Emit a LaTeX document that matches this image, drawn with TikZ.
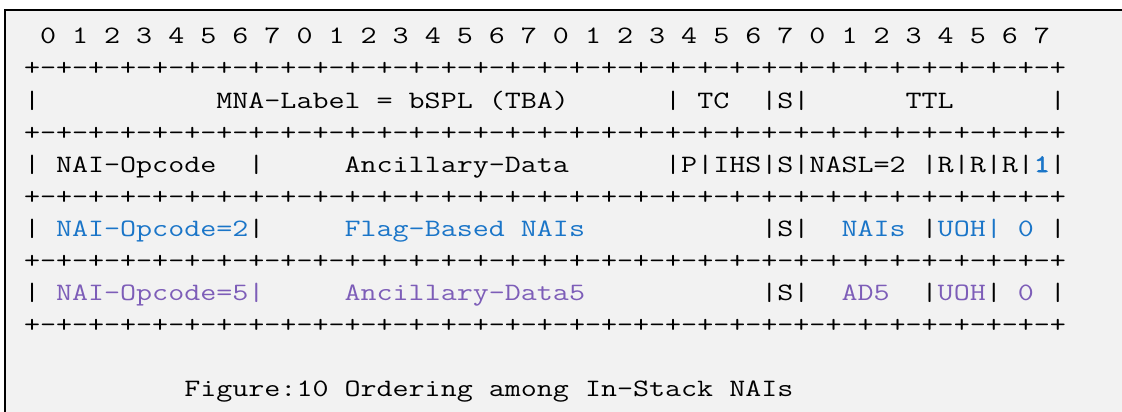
\documentclass[tikz,border=0pt]{standalone}
\usepackage{fontspec}
\newfontfamily\monofam{Latin Modern Mono}[FakeStretch=1.245]
\newfontfamily\monobold{Latin Modern Mono}[FakeStretch=1.245,FakeBold=2.5]
\definecolor{bgc}{HTML}{F2F2F2}
\definecolor{naiblue}{HTML}{1A75C8}
\definecolor{naipurple}{HTML}{7D5DB8}
\newcommand{\putt}[5]{\node[txt,#4] (#1) at ({24+16.03*#2},{44+32*(#3-1)}) {#5};}
\newcommand{\gridline}[2]{%
  \foreach \i in {0,...,64}{%
    \pgfmathtruncatemacro{\parity}{mod(\i,2)}%
    \ifnum\parity=0 \node[gch] (#1-\i) at ({24+16.03*(\i+0.5)},{44+32*(#2-1)}) {+};%
    \else \node[gch] (#1-\i) at ({24+16.03*(\i+0.5)},{44+32*(#2-1)}) {-};\fi}}
\begin{document}
\begin{tikzpicture}[x=1pt,y=-1pt,
  txt/.style={anchor=base west,inner sep=0pt,outer sep=0pt,font=\monofam\fontsize{25pt}{32pt}\selectfont,text=black},
  gch/.style={anchor=base,inner sep=0pt,outer sep=0pt,font=\monofam\fontsize{25pt}{32pt}\selectfont,text=black},
  blu/.style={text=naiblue},
  pur/.style={text=naipurple},
  frame/.style={draw=black,line width=2pt}]
\useasboundingbox (0,0) rectangle (1122,412);
\fill[white] (0,0) rectangle (1122,412);
\fill[bgc] (5,10) rectangle (1122,412);
\draw[frame] (5,412) -- (5,10) -- (1122,10);
% row 1: bit numbers
\foreach \i in {0,...,31}{%
  \pgfmathtruncatemacro{\dig}{mod(\i,8)}%
  \node[gch] (bit-\i) at ({24+16.03*(2*\i+1.5)},44) {\dig};}
\gridline{g1}{2}
% row 3
\putt{a0}{0}{3}{}{|}
\putt{alabel}{12}{3}{}{MNA-Label = bSPL (TBA)}
\putt{a40}{40}{3}{}{|}
\putt{atc}{42}{3}{}{TC}
\putt{as}{46}{3}{}{|S|}
\putt{attl}{55}{3}{}{TTL}
\putt{a64}{64}{3}{}{|}
\gridline{g2}{4}
% row 5
\putt{b0}{0}{5}{}{|}
\putt{bop}{2}{5}{}{NAI-Opcode}
\putt{b14}{14}{5}{}{|}
\putt{banc}{20}{5}{}{Ancillary-Data}
\putt{bmid}{40}{5}{}{|P|IHS|S|NASL=2}
\putt{br}{56}{5}{}{|R|R|R|}
\putt{bone}{63}{5}{blu,font=\monobold\fontsize{25pt}{32pt}\selectfont}{1}
\putt{b64}{64}{5}{}{|}
\gridline{g3}{6}
% row 7
\putt{c0}{0}{7}{}{|}
\putt{cop}{2}{7}{blu}{NAI-Opcode=2}
\putt{c14}{14}{7}{}{|}
\putt{cflag}{20}{7}{blu}{Flag-Based NAIs}
\putt{cs}{46}{7}{}{|S|}
\putt{cnais}{51}{7}{blu}{NAIs}
\putt{c56}{56}{7}{}{|}
\putt{cuoh}{57}{7}{blu}{UOH|}
\putt{czero}{62}{7}{blu}{0}
\putt{c64}{64}{7}{}{|}
\gridline{g4}{8}
% row 9
\putt{d0}{0}{9}{}{|}
\putt{dop}{2}{9}{pur}{NAI-Opcode=5|}
\putt{danc}{20}{9}{pur}{Ancillary-Data5}
\putt{ds}{46}{9}{}{|S|}
\putt{dad}{51}{9}{pur}{AD5}
\putt{d56}{56}{9}{}{|}
\putt{duoh}{57}{9}{pur}{UOH}
\putt{d60}{60}{9}{}{|}
\putt{dzero}{62}{9}{pur}{0}
\putt{d64}{64}{9}{}{|}
\gridline{g5}{10}
% caption
\putt{cap}{10}{12}{}{Figure:10 Ordering among In-Stack NAIs}
\end{tikzpicture}
\end{document}
